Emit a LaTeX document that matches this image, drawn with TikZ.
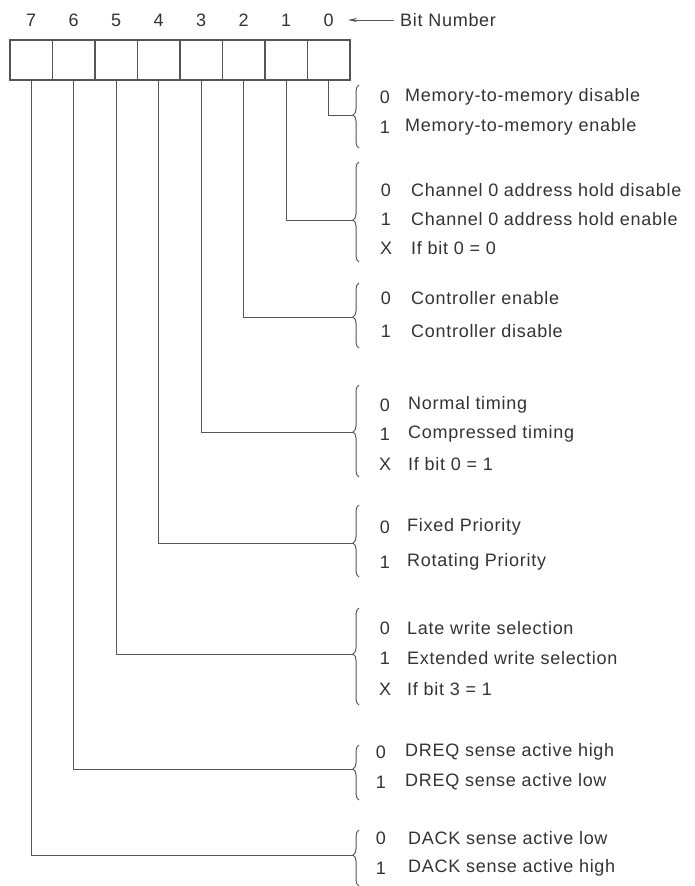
\documentclass[tikz,border=0pt]{standalone}
\usepackage{fontspec}
\setmainfont{Liberation Sans}[LetterSpace=4]
\usetikzlibrary{decorations.pathreplacing,arrows.meta}
\definecolor{ink}{HTML}{333333}
\definecolor{linec}{HTML}{555555}
\begin{document}
\begin{tikzpicture}[x=1pt,y=-1pt,
  bitbox/.style={draw=linec,line width=1.1pt,minimum width=42.5pt,minimum height=40pt,inner sep=0,outer sep=0},
  bitnum/.style={text=ink,font=\fontsize{18}{21}\selectfont,inner sep=0},
  dig/.style={text=ink,font=\fontsize{18}{21}\selectfont,inner sep=0},
  lab/.style={text=ink,font=\fontsize{18}{21}\selectfont,inner sep=0,anchor=west},
  conn/.style={draw=linec,line width=0.8pt},
  brc/.style={draw=linec,line width=1pt,decorate,decoration={brace,amplitude=6pt,aspect=#1}}]
\path[use as bounding box] (0,0) rectangle (694,886);
% boxes
\foreach \i in {0,...,7}{
  \pgfmathsetmacro{\cx}{31.25+42.5*(7-\i)}
  \node[bitbox] (b\i) at (\cx,60) {};
  \node[bitnum] (n\i) at (\cx,20) {\i};
}
\node[lab] (bn) at (400,20) {Bit Number};
\draw[linec,line width=0.9pt,-{Stealth[length=9pt,width=4pt]}] ([xshift=-6pt]bn.west) -- ([xshift=14pt]n0.east);
% brace tips
\coordinate (t0) at (353,115);
\coordinate (t1) at (353,220);
\coordinate (t2) at (353,317);
\coordinate (t3) at (353,432);
\coordinate (t4) at (353,543);
\coordinate (t5) at (353,654);
\coordinate (t6) at (353,769);
\coordinate (t7) at (353,855);
% braces (from bottom to top)
\draw[brc={(148-115)/(148-85)}] (359,148) -- (359,85);
\draw[brc={(262-220)/(262-162)}] (359,262) -- (359,162);
\draw[brc={(348-317)/(348-283)}] (359,348) -- (359,283);
\draw[brc={(477-432)/(477-385)}] (359,477) -- (359,385);
\draw[brc={(577-543)/(577-505)}] (359,577) -- (359,505);
\draw[brc={(705-654)/(705-608)}] (359,705) -- (359,608);
\draw[brc={(800-769)/(800-745)}] (359,800) -- (359,745);
\draw[brc={(886-855)/(886-830)}] (359,886) -- (359,830);
% connectors
\foreach \i in {0,...,7}{ \draw[conn] (b\i.south) |- (t\i); }
% labels
\node[dig] (d0a) at (385,97) {0};  \node[lab] (l0a) at (405,97) {Memory-to-memory disable};
\node[dig] (d0b) at (385,127) {1}; \node[lab] (l0b) at (405,127) {Memory-to-memory enable};
\node[dig] (d1a) at (386,190) {0}; \node[lab] (l1a) at (411,190) {Channel 0 address hold disable};
\node[dig] (d1b) at (386,219) {1}; \node[lab] (l1b) at (411,219) {Channel 0 address hold enable};
\node[dig] (d1c) at (386,248) {X}; \node[lab] (l1c) at (411,248) {If bit 0 = 0};
\node[dig] (d2a) at (386,298) {0}; \node[lab] (l2a) at (411,298) {Controller enable};
\node[dig] (d2b) at (386,331) {1}; \node[lab] (l2b) at (411,331) {Controller disable};
\node[dig] (d3a) at (385,405) {0}; \node[lab] (l3a) at (408,405) {Normal timing};
\node[dig] (d3b) at (385,434) {1}; \node[lab] (l3b) at (408,434) {Compressed timing};
\node[dig] (d3c) at (385,464) {X}; \node[lab] (l3c) at (408,464) {If bit 0 = 1};
\node[dig] (d4a) at (385,527) {0}; \node[lab] (l4a) at (407,527) {Fixed Priority};
\node[dig] (d4b) at (385,562) {1}; \node[lab] (l4b) at (407,562) {Rotating Priority};
\node[dig] (d5a) at (385,628) {0}; \node[lab] (l5a) at (407,628) {Late write selection};
\node[dig] (d5b) at (385,658) {1}; \node[lab] (l5b) at (407,658) {Extended write selection};
\node[dig] (d5c) at (385,689) {X}; \node[lab] (l5c) at (407,689) {If bit 3 = 1};
\node[dig] (d6a) at (381,752) {0}; \node[lab] (l6a) at (405,752) {DREQ sense active high};
\node[dig] (d6b) at (381,782) {1}; \node[lab] (l6b) at (405,782) {DREQ sense active low};
\node[dig] (d7a) at (381,838) {0}; \node[lab] (l7a) at (408,838) {DACK sense active low};
\node[dig] (d7b) at (381,868) {1}; \node[lab] (l7b) at (408,868) {DACK sense active high};
\end{tikzpicture}
\end{document}
